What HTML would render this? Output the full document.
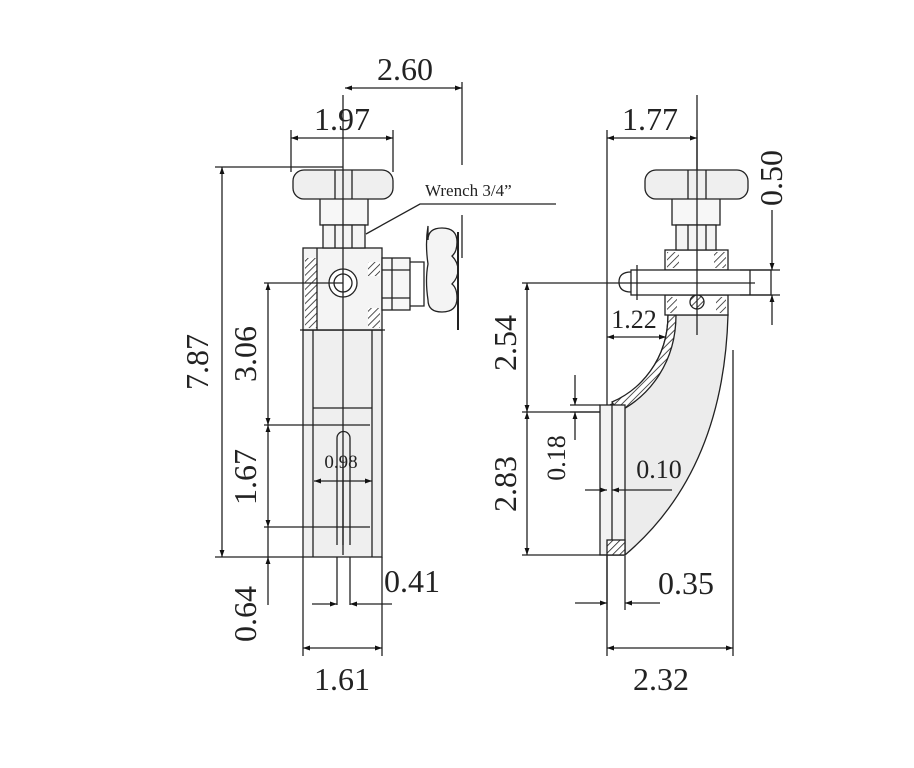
<!DOCTYPE html>
<html><head><meta charset="utf-8"><style>
html,body{margin:0;padding:0;background:#fff}
svg{display:block}
text{font-family:"Liberation Serif",serif;fill:#222}
</style></head><body>
<svg width="914" height="768" viewBox="0 0 914 768" xmlns="http://www.w3.org/2000/svg">
<defs>
<marker id="a" viewBox="0 0 10 10" refX="10" refY="5" markerWidth="9" markerHeight="7" orient="auto-start-reverse" markerUnits="userSpaceOnUse"><path d="M0,1.5 L10,5 L0,8.5 Z" fill="#111"/></marker>
<pattern id="h" width="5" height="5" patternUnits="userSpaceOnUse" patternTransform="rotate(45)"><rect width="5" height="5" fill="#fff"/><line x1="0" y1="0" x2="0" y2="5" stroke="#222" stroke-width="1.6"/></pattern>
</defs>
<g stroke="#222" stroke-width="1.3" fill="none">
<!-- LEFT VIEW -->
<!-- 2.60 -->
<line x1="345" y1="88" x2="462" y2="88" marker-start="url(#a)" marker-end="url(#a)"/>
<line x1="462" y1="82" x2="462" y2="165"/><line x1="462" y1="215" x2="462" y2="258"/>
<!-- 1.97 -->
<line x1="291" y1="138" x2="393" y2="138" marker-start="url(#a)" marker-end="url(#a)"/>
<line x1="291" y1="130" x2="291" y2="172"/><line x1="393" y1="130" x2="393" y2="172"/>
<!-- lower body -->
<rect x="303" y="330" width="79" height="227" fill="#efefef"/>
<line x1="313" y1="330" x2="313" y2="557"/><line x1="372" y1="330" x2="372" y2="557"/>
<line x1="313" y1="408" x2="372" y2="408"/>
<path d="M337,545 V438 A6.5,6.5 0 0 1 350,438 V545"/>
<line x1="343" y1="460" x2="343" y2="545"/>
<!-- rod below -->
<line x1="337" y1="557" x2="337" y2="605"/><line x1="350" y1="557" x2="350" y2="605"/>
<!-- body block -->
<rect x="303" y="248" width="79" height="82" fill="#f4f4f4"/>
<rect x="305" y="258" width="12" height="70" fill="url(#h)" stroke="none"/>
<rect x="368" y="262" width="12" height="14" fill="url(#h)" stroke="none"/>
<rect x="368" y="308" width="12" height="20" fill="url(#h)" stroke="none"/>
<line x1="317" y1="248" x2="317" y2="330"/>
<line x1="300" y1="330" x2="385" y2="330"/>
<circle cx="343" cy="283" r="14" fill="#fff"/><circle cx="343" cy="283" r="9"/>
<!-- side valve -->
<rect x="382" y="258" width="28" height="52" fill="#f7f7f7"/>
<line x1="392" y1="258" x2="392" y2="310"/><line x1="382" y1="270" x2="410" y2="270"/><line x1="382" y1="298" x2="410" y2="298"/>
<path d="M410,262 h14 v44 h-14"/>
<path d="M428,240 q0,-12 14,-12 q15,0 15,14 q0,10 -5,14 q6,6 6,14 q0,8 -6,14 q5,4 5,14 q0,14 -15,14 q-14,0 -14,-12 q-3,-20 0,-36 q-3,-20 0,-38z" fill="#f4f4f4"/>
<line x1="458" y1="232" x2="458" y2="330" stroke-width="2"/>
<!-- stem -->
<rect x="320" y="198" width="48" height="27" fill="#f7f7f7"/>
<rect x="323" y="225" width="42" height="23" fill="#f4f4f4"/>
<line x1="335" y1="225" x2="335" y2="248"/><line x1="352" y1="225" x2="352" y2="248"/>
<!-- knob -->
<rect x="293" y="170" width="100" height="29" rx="11" fill="#efefef"/>
<line x1="335" y1="170" x2="335" y2="199"/><line x1="352" y1="170" x2="352" y2="199"/>
<!-- centerline -->
<line x1="343" y1="95" x2="343" y2="555"/>
<!-- wrench leader -->
<polyline points="366,234 420,204 556,204"/>
<!-- 7.87 -->
<line x1="215" y1="167" x2="343" y2="167"/><line x1="215" y1="557" x2="303" y2="557"/>
<line x1="222" y1="167" x2="222" y2="557" marker-start="url(#a)" marker-end="url(#a)"/>
<!-- 3.06 / 1.67 / 0.64 -->
<line x1="264" y1="283" x2="343" y2="283"/>
<line x1="264" y1="425" x2="370" y2="425"/>
<line x1="264" y1="527" x2="370" y2="527"/>
<line x1="268" y1="283" x2="268" y2="425" marker-start="url(#a)" marker-end="url(#a)"/>
<line x1="268" y1="425" x2="268" y2="527" marker-start="url(#a)" marker-end="url(#a)"/>
<line x1="268" y1="527" x2="268" y2="557"/>
<line x1="268" y1="605" x2="268" y2="557" marker-end="url(#a)"/>
<!-- 0.98 -->
<line x1="314" y1="481" x2="372" y2="481" marker-start="url(#a)" marker-end="url(#a)"/>
<!-- 0.41 -->
<line x1="312" y1="604" x2="337" y2="604" marker-end="url(#a)"/>
<line x1="392" y1="604" x2="350" y2="604" marker-end="url(#a)"/>
<!-- 1.61 -->
<line x1="303" y1="557" x2="303" y2="656"/><line x1="382" y1="557" x2="382" y2="656"/>
<line x1="303" y1="648" x2="382" y2="648" marker-start="url(#a)" marker-end="url(#a)"/>

<!-- RIGHT VIEW -->
<line x1="607" y1="130" x2="607" y2="656"/>
<line x1="733" y1="350" x2="733" y2="656"/>
<line x1="607" y1="138" x2="697" y2="138" marker-start="url(#a)" marker-end="url(#a)"/>
<line x1="697" y1="130" x2="697" y2="172"/>
<!-- curved body -->
<path d="M668,315 C668,360 640,390 610,405 L607,410 L607,555 L625,555 C690,500 725,420 728,315 Z" fill="#ececec"/>
<path d="M668,315 C668,360 640,390 612,402 L618,412 C650,396 676,362 676,315 Z" fill="url(#h)"/>
<rect x="600" y="405" width="25" height="150" fill="#f2f2f2"/>
<line x1="612" y1="405" x2="612" y2="555"/>
<rect x="607" y="540" width="18" height="15" fill="url(#h)"/>
<!-- block + rod -->
<rect x="665" y="250" width="63" height="20" fill="#fff"/>
<rect x="667" y="252" width="12" height="16" fill="url(#h)" stroke="none"/>
<rect x="714" y="252" width="12" height="16" fill="url(#h)" stroke="none"/>
<rect x="665" y="295" width="63" height="20" fill="#fff"/>
<rect x="667" y="297" width="10" height="16" fill="url(#h)" stroke="none"/>
<rect x="716" y="297" width="10" height="16" fill="url(#h)" stroke="none"/>
<circle cx="697" cy="302" r="7" fill="url(#h)"/>
<rect x="631" y="270" width="140" height="25" fill="#fff"/>
<path d="M631,272 q-12,0 -12,10 q0,10 12,10"/>
<line x1="637" y1="265" x2="637" y2="300"/>
<line x1="750" y1="270" x2="750" y2="295"/>
<line x1="580" y1="283" x2="755" y2="283"/>
<!-- stem + knob -->
<rect x="672" y="198" width="48" height="27" fill="#f7f7f7"/>
<rect x="676" y="225" width="40" height="25" fill="#f4f4f4"/>
<line x1="688" y1="225" x2="688" y2="250"/><line x1="706" y1="225" x2="706" y2="250"/>
<rect x="645" y="170" width="103" height="29" rx="11" fill="#efefef"/>
<line x1="688" y1="170" x2="688" y2="199"/><line x1="706" y1="170" x2="706" y2="199"/>
<line x1="697" y1="95" x2="697" y2="335"/>
<!-- 0.50 -->
<line x1="740" y1="270" x2="780" y2="270"/><line x1="740" y1="295" x2="780" y2="295"/>
<line x1="772" y1="210" x2="772" y2="270" marker-end="url(#a)"/>
<line x1="772" y1="325" x2="772" y2="295" marker-end="url(#a)"/>
<!-- 2.54 / 2.83 -->
<line x1="522" y1="283" x2="580" y2="283"/>
<line x1="522" y1="412" x2="600" y2="412"/>
<line x1="522" y1="555" x2="607" y2="555"/>
<line x1="527" y1="283" x2="527" y2="412" marker-start="url(#a)" marker-end="url(#a)"/>
<line x1="527" y1="412" x2="527" y2="555" marker-start="url(#a)" marker-end="url(#a)"/>
<!-- 1.22 -->
<line x1="607" y1="337" x2="666" y2="337" marker-start="url(#a)" marker-end="url(#a)"/>
<!-- 0.18 -->
<line x1="575" y1="375" x2="575" y2="405" marker-end="url(#a)"/>
<line x1="575" y1="440" x2="575" y2="412" marker-end="url(#a)"/>
<line x1="570" y1="405" x2="600" y2="405"/>
<line x1="570" y1="412" x2="600" y2="412"/>
<!-- 0.10 -->
<line x1="585" y1="490" x2="607" y2="490" marker-end="url(#a)"/>
<line x1="672" y1="490" x2="612" y2="490" marker-end="url(#a)"/>
<!-- 0.35 -->
<line x1="607" y1="556" x2="607" y2="610"/><line x1="625" y1="556" x2="625" y2="610"/>
<line x1="575" y1="603" x2="607" y2="603" marker-end="url(#a)"/>
<line x1="660" y1="603" x2="625" y2="603" marker-end="url(#a)"/>
<!-- 2.32 -->
<line x1="607" y1="648" x2="733" y2="648" marker-start="url(#a)" marker-end="url(#a)"/>
</g>
<!-- texts -->
<g font-size="32" text-anchor="middle">
<text x="405" y="80">2.60</text>
<text x="342" y="130">1.97</text>
<text x="650" y="130">1.77</text>
<text x="412" y="592" text-anchor="middle">0.41</text>
<text x="342" y="690">1.61</text>
<text x="661" y="690">2.32</text>
<text x="686" y="594">0.35</text>
<text transform="translate(208,362) rotate(-90)">7.87</text>
<text transform="translate(256,354) rotate(-90)">3.06</text>
<text transform="translate(256,477) rotate(-90)">1.67</text>
<text transform="translate(256,614) rotate(-90)">0.64</text>
<text transform="translate(516,343) rotate(-90)">2.54</text>
<text transform="translate(516,484) rotate(-90)">2.83</text>
<text transform="translate(782,178) rotate(-90)">0.50</text>
</g>
<g font-size="26" text-anchor="middle">
<text x="634" y="328">1.22</text>
<text x="659" y="478">0.10</text>
<text transform="translate(565,458) rotate(-90)">0.18</text>
</g>
<text x="341" y="468" font-size="19" text-anchor="middle">0.98</text>
<text x="425" y="196" font-size="17">Wrench 3/4”</text>
</svg>
</body></html>
